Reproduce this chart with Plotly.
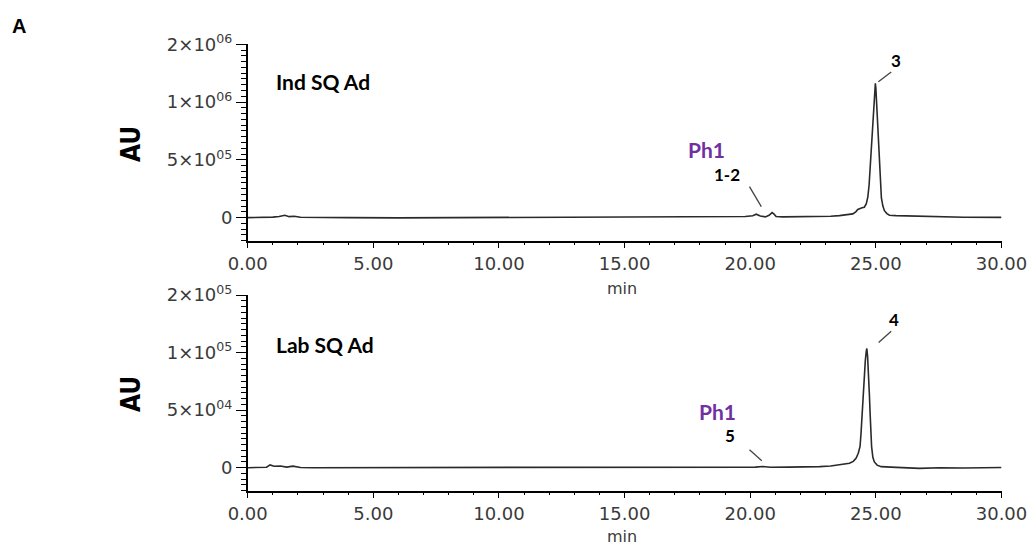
import plotly.graph_objects as go

# ---------------- data ----------------
TIME_IND = [0.0, 0.6, 1.0, 1.25, 1.48, 1.65, 1.85, 2.1, 2.6, 4.0, 6.0, 8.0, 10.0, 12.0,
            14.0, 16.0, 18.0, 19.2, 19.8, 20.1, 20.24, 20.4, 20.6, 20.75, 20.87, 20.95,
            21.03, 21.3, 22.0, 22.76, 23.2, 23.55, 23.85, 24.08, 24.2, 24.28, 24.45,
            24.54, 24.62, 24.68, 24.73, 24.77, 24.81, 24.85, 24.89, 24.93, 24.96, 24.98,
            25.0, 25.03, 25.06, 25.09, 25.115, 25.14, 25.17, 25.22, 25.28, 25.34, 25.44,
            25.54, 25.8, 26.2, 26.73, 27.5, 28.5, 30.0]
AU_IND = [0, 0, 4000, 9000, 20000, 8000, 12000, 3000, 1000, 0, -2000, 0, 2000, 0,
          1000, 2000, 4000, 6000, 9000, 16000, 29000, 14000, 6000, 20000, 43000, 30000,
          10000, 6000, 6000, 9000, 12000, 17000, 24000, 32000, 50000, 70000, 85000,
          90000, 120000, 180000, 280000, 410000, 550000, 700000, 850000, 990000, 1100000, 1163000,
          1120000, 990000, 850000, 700000, 550000, 410000, 280000, 170000, 100000, 60000, 35000,
          20000, 17000, 15000, 10000, 5000, 3000, 2000]

TIME_LAB = [0.0, 0.5, 0.75, 0.89, 1.05, 1.3, 1.55, 1.8, 2.1, 2.6, 4.0, 6.0, 8.0, 10.0,
            12.0, 14.0, 16.0, 18.0, 19.5, 20.2, 20.5, 20.8, 21.5, 22.3, 22.76, 23.2, 23.55,
            23.95, 24.1, 24.21, 24.3, 24.37, 24.41, 24.45, 24.49, 24.53, 24.58, 24.62,
            24.64, 24.67, 24.70, 24.72, 24.745, 24.77, 24.80, 24.83, 24.88, 24.94, 25.05,
            25.21, 25.6, 25.94, 26.4, 26.73, 27.53, 28.5, 30.0]
AU_LAB = [0, 0, 400, 2400, 1200, 1500, 500, 1300, 200, 0, 0, 300, 400, 500,
          400, 400, 300, 300, 400, 500, 1000, 400, 500, 600, 900, 1400, 2400,
          3800, 5500, 8200, 12500, 18400, 30000, 47500, 62000, 76700, 93000, 101500,
          103500, 97000, 86000, 76700, 62000, 47500, 32000, 18400, 9000, 5000, 2200,
          900, 500, 300, -200, -600, 0, -300, 200]

IND_TICKVALS = [0, 500000, 1000000, 1500000]
IND_TICKTEXT = ["0", "5×10<sup>05</sup>", "1×10<sup>06</sup>", "2×10<sup>06</sup>"]
LAB_TICKVALS = [0, 50000, 100000, 150000]
LAB_TICKTEXT = ["0", "5×10<sup>04</sup>", "1×10<sup>05</sup>", "2×10<sup>05</sup>"]
X_TICKVALS = [0, 5, 10, 15, 20, 25, 30]

W, H = 1032, 545
X_DOM = [247.7 / W, 1001.5 / W]
Y_DOM_TOP = [1 - 240.7 / H, 1 - 44.3 / H]
Y_DOM_BOT = [1 - 490.7 / H, 1 - 295.0 / H]

TICK_FONT = dict(family="DejaVu Sans", size=18, color="#3a3a3a")
LINE_COLOR = "#2a2a2a"

fig = go.Figure()
fig.add_trace(go.Scatter(x=TIME_IND, y=AU_IND, mode="lines",
                         line=dict(color=LINE_COLOR, width=1.6), xaxis="x", yaxis="y",
                         showlegend=False, hoverinfo="skip"))
fig.add_trace(go.Scatter(x=TIME_LAB, y=AU_LAB, mode="lines",
                         line=dict(color=LINE_COLOR, width=1.6), xaxis="x2", yaxis="y2",
                         showlegend=False, hoverinfo="skip"))

xcommon = dict(range=[0, 30], tickvals=X_TICKVALS, tickformat=".2f", ticks="outside",
               ticklen=6, tickwidth=1.3, tickcolor="black", showline=True, linecolor="black",
               linewidth=1.5, showgrid=False, zeroline=False, tickfont=TICK_FONT,
               automargin=False,
               minor=dict(dtick=1, tick0=0, ticks="outside", ticklen=3, tickwidth=1.2,
                          tickcolor="black", showgrid=False),
               domain=X_DOM, fixedrange=True)
ycommon = dict(ticks="outside", ticklen=10, tickwidth=1.3, tickcolor="black", showline=True,
               linecolor="black", linewidth=1.5, showgrid=False, zeroline=False,
               automargin=False, tickfont=TICK_FONT, fixedrange=True)

fig.update_layout(
    width=W, height=H,
    margin=dict(l=0, r=0, t=0, b=0, autoexpand=False),
    paper_bgcolor="white", plot_bgcolor="white",
    xaxis=dict(**xcommon, anchor="y"),
    yaxis=dict(**ycommon, domain=Y_DOM_TOP, range=[-200000, 1500000], anchor="x",
               tickvals=IND_TICKVALS, ticktext=IND_TICKTEXT,
               minor=dict(dtick=50000, tick0=0, ticks="outside", ticklen=5, tickwidth=1.2,
                          tickcolor="black", showgrid=False)),
    xaxis2=dict(**xcommon, anchor="y2"),
    yaxis2=dict(**ycommon, domain=Y_DOM_BOT, range=[-20000, 150000], anchor="x2",
                tickvals=LAB_TICKVALS, ticktext=LAB_TICKTEXT,
                minor=dict(dtick=5000, tick0=0, ticks="outside", ticklen=5, tickwidth=1.2,
                           tickcolor="black", showgrid=False)),
)

BOLD = "Lato"
PURPLE = "#7030A0"
ann = []
def txt(text, x, y, xref, yref, size, color="black", family=BOLD, xanchor="center", textangle=0):
    ann.append(dict(text=text, x=x, y=y, xref=xref, yref=yref, showarrow=False,
                    font=dict(family=family, size=size, color=color),
                    xanchor=xanchor, yanchor="middle", textangle=textangle))

# panel labels
txt("<b>A</b>", 19 / W, 1 - 26 / H, "paper", "paper", 20, family="Liberation Sans")
txt("<b>Ind SQ Ad</b>", 1.05, 1180000, "x", "y", 21, xanchor="left")
txt("<b>Lab SQ Ad</b>", 1.05, 107300, "x2", "y2", 21, xanchor="left")
txt("<b>Ph1</b>", 18.26, 586000, "x", "y", 21, color=PURPLE)
txt("<b>1-2</b>", 19.06, 370000, "x", "y", 17)
txt("<b>3</b>", 25.82, 1364000, "x", "y", 17)
txt("<b>Ph1</b>", 18.68, 48700, "x2", "y2", 21, color=PURPLE)
txt("<b>5</b>", 19.2, 27700, "x2", "y2", 17)
txt("<b>4</b>", 25.74, 129000, "x2", "y2", 17)
# axis titles
for yc in (144, 394):
    txt("<b>AU</b>", 131 / W, 1 - yc / H, "paper", "paper", 26,
        family="DejaVu Sans Condensed, Liberation Sans", textangle=-90)
for yc in (288, 536):
    txt("min", 622 / W, 1 - yc / H, "paper", "paper", 16, family="DejaVu Sans", color="#3a3a3a")
fig.update_layout(annotations=ann)

# leader lines
LEADERS = [("x", "y", 19.97, 268000, 20.44, 95000),
           ("x", "y", 25.10, 1176000, 25.61, 1260000),
           ("x2", "y2", 25.11, 108700, 25.61, 118600),
           ("x2", "y2", 19.97, 15500, 20.46, 6100)]
for xr, yr, x0, y0, x1, y1 in LEADERS:
    fig.add_shape(type="line", xref=xr, yref=yr, x0=x0, y0=y0, x1=x1, y1=y1,
                  line=dict(color="#444444", width=1.3))

fig.write_html("out.html", config={"displayModeBar": False},
               post_script="document.body.style.margin='0px';document.body.style.overflow='hidden';")
